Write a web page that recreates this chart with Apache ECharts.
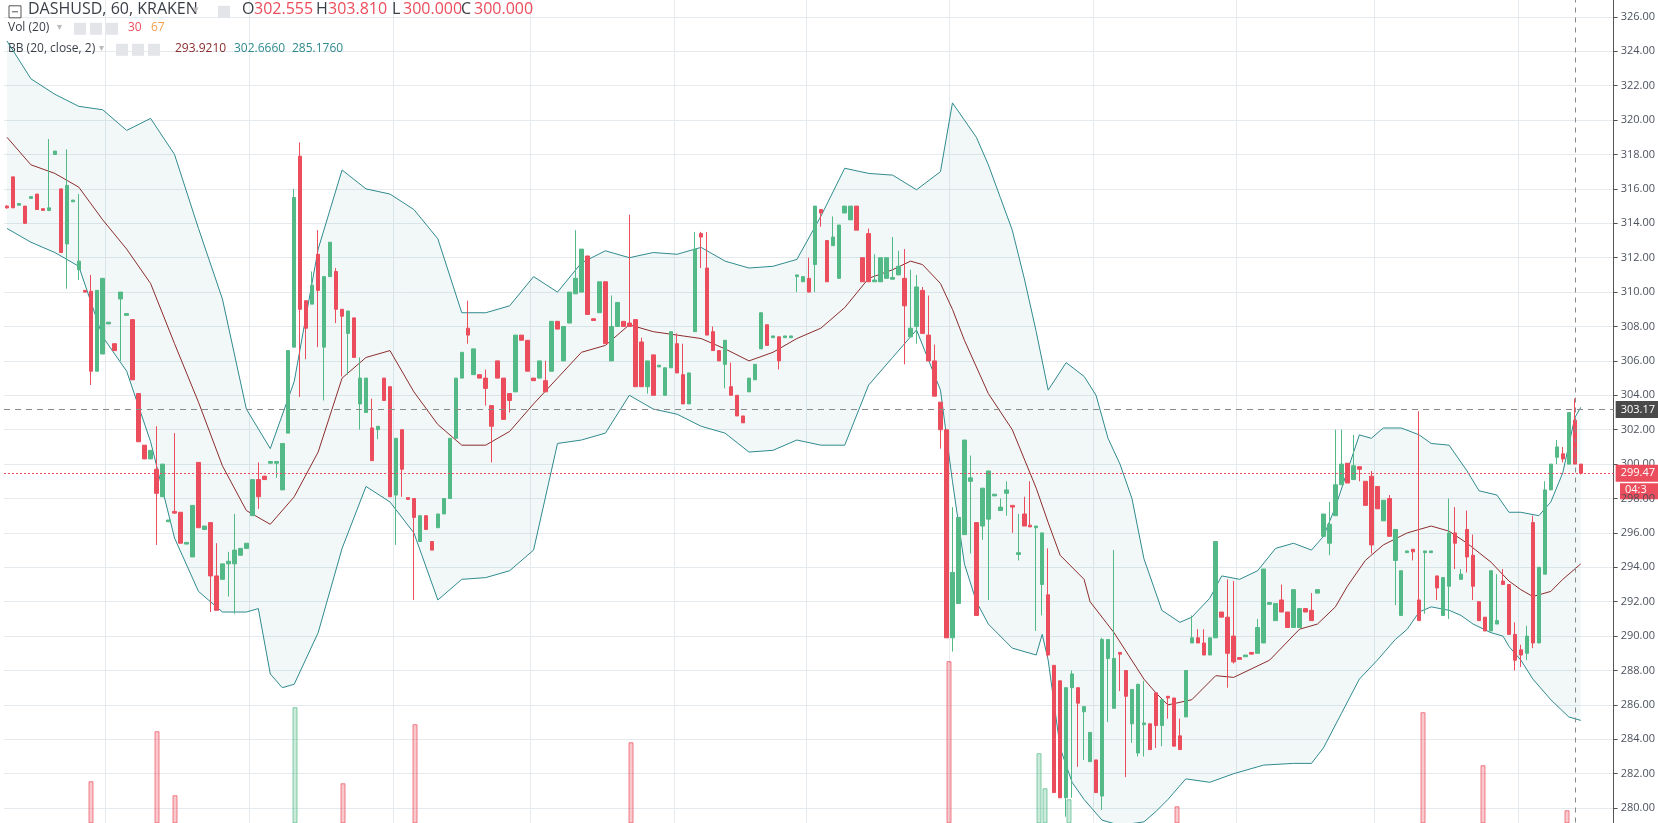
<!DOCTYPE html>
<html><head><meta charset="utf-8">
<script src="https://cdn.jsdelivr.net/npm/echarts@6/dist/echarts.min.js"></script>
<style>html,body{margin:0;padding:0;background:#fff;overflow:hidden;width:1658px;height:823px;position:relative}#c{position:absolute;left:0;top:-22.8px;width:1658px;height:870.5px}</style>
</head><body><div id="c"></div>
<script>
// candles: [open, close, high?, low?]
const candles = [
[315.0,314.9,315.05,314.85],[316.7,314.9],[315.05,315.15],[315.0,314.0,315.0,313.96],[315.45,315.55],[315.7,314.8],[314.85,314.75],[314.75,314.9,318.9,314.7],[318.0,318.2],[316.0,312.3],
[312.8,316.2,318.3,310.2],[315.25,315.35],[311.3,311.8,315.7,310.7],[310.1,310.0],[310.05,305.4,311.0,304.6],[305.4,310.1],[306.4,310.8],[308.15,308.25],[307.0,306.6],[309.6,310.0,310.0,306.0],
[308.65,308.75],[308.4,304.9],[304.1,301.3],[301.1,300.3],[300.3,300.8],[299.7,298.3,302.2,295.3],[298.1,300.0],[296.65,296.75],[297.25,297.15,301.8,297.1],[297.2,295.4],
[295.35,295.45],[294.6,297.6],[300.1,296.3],[296.2,296.4],[296.6,293.5,296.6,291.4],[293.5,291.5,295.4,291.5],[293.3,294.2],[294.2,294.35,294.9,292.3],[294.2,295.0,297.1,291.3],[294.7,295.1],
[295.1,295.4],[297.0,299.1],[299.1,298.1,300.1,297.4],[299.3,299.1],[300.05,300.15],[300.05,300.15,300.15,299.2],[298.5,301.2],[301.8,306.6],[306.8,315.5,316.0,306.8],[317.9,309.0,318.7,303.9],
[309.5,307.9,309.5,306.1],[309.3,310.4,311.2,309.3],[312.2,310.1,313.6,306.8],[306.8,310.9,310.9,303.7],[310.9,312.9],[311.2,309.0,311.4,308.2],[309.0,308.6,309.0,305.1],[307.6,308.9,308.9,305.2],[308.5,306.2],[303.5,305.0,306.2,302.0],
[303.0,305.0],[302.1,300.2,303.8,300.2],[302.0,302.2,302.2,301.45],[305.0,303.7],[304.5,298.1],[298.2,301.5,301.5,295.3],[302.0,299.7,302.0,298.1],[298.05,297.95],[298.0,296.9,298.0,292.1],[295.5,297.0],
[297.0,296.2],[295.5,295.0],[296.3,297.1],[297.1,298.0],[298.0,301.5],[301.5,305.0],[305.0,306.5],[307.9,307.5,309.5,307.0],[305.2,306.7],[305.2,305.0],
[305.0,304.4,305.5,303.4],[303.4,302.2,303.4,300.1],[306.0,305.0],[305.0,302.6],[304.1,303.7,304.1,303.0],[304.2,307.5],[307.5,307.2],[307.2,305.4],[305.0,304.85],[305.0,306.0],
[304.85,304.2,306.0,304.2],[305.4,308.3],[308.3,307.85],[306.0,308.0],[308.2,310.0],[309.9,310.8,313.6,309.9],[310.0,312.5],[312.1,308.7],[308.45,308.35],[308.8,310.6],
[310.6,307.0],[306.0,308.0,309.8,306.0],[308.0,309.4],[308.3,308.0],[308.2,308.0,314.5,308.0],[308.4,304.5],[307.1,304.5,307.35,304.5],[304.5,306.0,306.0,304.1],[306.35,304.0],[305.65,305.75],
[304.0,305.6],[305.6,307.7],[307.0,305.3,307.6,305.3],[305.2,303.5,307.0,303.5],[303.5,305.3],[307.7,312.5,313.5,307.7],[313.4,313.2,313.5,311.4],[311.4,307.5,313.5,307.5],[307.7,306.6,308.0,306.6],[306.6,306.0],
[305.8,307.2,307.2,304.4],[304.5,304.0,305.9,304.0],[304.0,302.8],[302.8,302.4],[304.2,305.0],[304.9,305.8],[306.7,308.8],[308.1,306.9],[307.35,307.45],[307.4,306.0,307.4,305.5],
[307.35,307.45],[307.35,307.45],[310.9,311.0,311.0,310.0],[310.6,310.9],[310.8,310.0,312.0,310.0],[311.6,315.0,315.0,310.0],[314.8,314.6,314.8,313.8],[313.0,310.6],[312.7,313.2,314.4,312.7],[310.8,313.9],
[314.6,315.0],[314.2,315.0],[315.0,313.6],[312.0,310.6],[313.4,310.6,313.7,310.6],[310.6,310.7,312.2,310.6],[310.6,312.0],[310.8,312.0],[310.75,310.85,313.2,310.75],[311.0,311.5,312.4,311.0],
[310.8,309.2,312.5,305.8],[307.4,307.9,311.3,307.4],[308.0,310.3,311.0,307.0],[310.1,307.6,310.3,307.6],[307.5,306.0,309.8,306.0],[306.0,303.95,306.95,303.95],[303.6,302.0,303.6,300.9],[302.0,289.9],[289.9,293.7,297.5,289.1],[291.9,296.9],
[295.9,301.4],[299.0,299.2,300.5,294.8],[296.6,291.2],[296.4,298.6,298.6,295.6],[296.8,299.6,299.6,292.1],[298.15,298.25],[297.3,297.5,298.0,297.3],[298.3,298.5,299.0,297.0],[297.6,297.5,297.6,296.0],[294.75,294.85,297.1,294.4],
[297.1,296.4,298.1,296.4],[296.45,296.35,299.0,296.35],[296.3,296.4,296.4,290.3],[293.0,296.0,296.0,291.2],[292.4,288.9,295.1,288.8],[288.3,280.9],[287.4,280.6],[280.6,287.0,287.0,279.5],[287.0,287.8,288.0,280.6],[287.0,286.1,287.0,282.4],
[285.6,285.9,285.9,282.8],[282.7,284.4],[282.8,280.9],[280.7,289.8,289.9,279.9],[288.7,289.8,289.8,285.0],[285.8,288.7,295.0,285.8],[289.05,288.95,289.05,286.8],[288.0,286.5,288.0,281.8],[284.9,286.9,286.9,283.8],[283.2,287.2,287.2,283.0],
[284.85,284.95,287.4,283.0],[284.9,283.4],[286.7,284.8,286.7,283.5],[284.8,286.3,286.3,283.6],[286.5,286.4,286.5,285.2],[286.4,283.6],[284.2,283.4,285.2,283.4],[285.3,288.0],[289.6,289.9,291.2,289.6],[289.9,289.6,290.4,289.6],
[289.6,288.9,290.4,288.9],[288.9,289.9],[289.9,295.5],[291.4,291.1],[291.1,289.0,293.3,287.0],[290.0,288.5,293.2,288.4],[288.75,288.65],[288.8,288.9],[289.05,288.95],[289.0,290.5,291.0,289.0],
[289.6,293.9],[291.85,291.95],[290.9,291.9],[292.1,291.4,293.0,291.4],[291.4,290.5],[290.5,292.7],[290.5,291.6],[291.6,291.4],[291.5,290.9,292.5,290.9],[292.5,292.7],
[295.8,297.1],[295.4,296.5,297.8,294.7],[297.0,298.8,302.0,297.0],[298.8,300.0,302.0,298.8],[300.05,298.9],[299.1,299.9,301.7,299.1],[299.85,299.7,299.85,299.0],[299.0,297.6],[299.3,295.3,299.6,294.8],[298.7,297.4],
[296.7,297.9],[298.0,295.8,298.2,295.8],[294.4,296.2,296.2,291.8],[291.2,293.8],[294.85,294.95],[295.05,294.9,295.05,294.4],[292.1,290.9,303.07,290.9],[294.85,294.95,294.95,291.3],[294.85,294.95],[293.5,292.8,293.5,292.1],
[291.2,293.4],[292.9,296.0,298.0,291.0],[296.0,295.4,297.5,293.9],[293.3,293.6,293.9,293.3],[296.2,294.6,297.3,293.7],[294.7,292.9,295.9,292.1],[292.0,290.9],[291.1,290.3],[290.3,293.8],[290.7,290.9,293.6,290.7],
[293.2,293.0,293.9,293.0],[293.0,290.1],[290.1,288.6,290.8,288.0],[289.2,288.9,289.5,288.2],[289.0,290.0,290.6,288.6],[296.6,289.6,297.0,289.3],[289.6,294.0],[293.6,298.5,299.0,293.6],[298.5,300.0],[300.4,301.0,301.4,300.0],
[300.6,300.3,301.0,300.1],[300.0,303.0],[302.55,300.0,303.81,300.0],[300.0,299.47,300.0,299.4]
];
const bbUpper = [[0,324.6],[4,322.4],[8,321.5],[12,320.8],[16,320.6],[20,319.4],[24,320.1],[28,318.0],[32,313.7],[36,309.6],[40,303.2],[44,300.9],[48,304.8],[52,312.5],[56,317.1],[60,316.0],[64,315.7],[68,314.8],[72,313.1],[76,308.8],[80,308.8],[84,309.2],[88,310.9],[92,310.0],[96,311.7],[100,312.4],[104,312.0],[108,312.3],[112,312.2],[116,312.6],[120,311.8],[124,311.4],[128,311.5],[132,311.9],[136,314.4],[140,317.2],[144,316.9],[148,316.8],[152,315.95],[156,317.0],[158,321.0],[160,320.0],[162,319.0],[164,317.4],[166,315.5],[168,313.6],[170,310.8],[172,307.7],[174,304.3],[177,305.9],[180,305.1],[182,304.0],[184,301.5],[186,300.0],[188,298.0],[190,294.5],[193,291.5],[196,290.8],[198,291.1],[201,292.2],[203,293.5],[206,293.3],[209,293.8],[212,295.1],[215,295.4],[218,295.0],[220,295.8],[222,297.5],[226,301.7],[228,301.5],[230,302.1],[233,302.1],[236,301.7],[238,301.2],[241,301.1],[244,299.6],[246,298.45],[249,298.2],[251,297.2],[253,297.2],[256,297.0],[258,297.8],[260,299.5],[262,302.7],[263,303.3]];
const bbMid = [[0,319.0],[4,317.4],[8,316.9],[12,316.1],[16,314.2],[20,312.5],[24,310.5],[28,307.0],[32,303.6],[36,299.9],[40,297.3],[44,296.5],[48,298.1],[52,300.7],[56,305.0],[60,306.2],[64,306.6],[68,304.2],[72,302.3],[76,301.1],[80,301.1],[84,301.9],[88,303.5],[92,305.0],[96,306.5],[100,306.9],[104,308.1],[108,307.7],[112,307.5],[116,307.3],[120,306.7],[124,306.0],[128,306.5],[132,307.3],[136,307.9],[140,309.1],[144,310.8],[148,311.3],[151,311.8],[153,311.6],[156,310.5],[158,309.0],[160,307.2],[164,304.1],[168,302.0],[172,298.6],[174,296.6],[176,294.7],[180,293.3],[181,292.0],[185,290.2],[190,287.5],[192,286.7],[194,286.0],[198,286.3],[202,287.7],[205,287.6],[211,288.6],[216,290.4],[219,290.7],[222,291.7],[224,292.9],[227,294.4],[230,295.3],[234,296.0],[238,296.4],[241,296.1],[244,295.4],[248,294.3],[251,293.2],[253,292.7],[255,292.3],[258,292.6],[260,293.3],[263,294.2]];
const bbLower = [[0,313.7],[4,312.9],[8,312.3],[12,311.5],[16,307.4],[20,305.4],[24,301.3],[28,295.7],[32,292.6],[36,291.4],[40,291.4],[42,291.6],[44,287.8],[46,287.0],[48,287.2],[52,290.2],[56,295.1],[60,298.7],[64,297.8],[68,296.0],[72,292.1],[76,293.3],[80,293.4],[84,293.8],[88,295.0],[92,301.2],[96,301.4],[100,301.8],[104,304.0],[108,303.2],[112,302.9],[116,302.2],[120,301.8],[124,300.7],[128,300.8],[132,301.4],[136,301.1],[140,301.1],[144,304.6],[148,306.2],[152,307.8],[156,304.3],[158,299.0],[160,294.2],[162,292.0],[164,290.7],[168,289.3],[172,288.9],[173,290.1],[174,288.6],[176,283.5],[178,281.5],[180,280.5],[183,279.3],[186,279.0],[190,279.2],[192,279.8],[194,280.5],[197,281.7],[201,281.5],[205,282.0],[210,282.5],[215,282.6],[218,282.6],[220,283.5],[223,285.5],[226,287.5],[229,288.6],[232,289.8],[234,290.4],[236,291.4],[238,291.7],[241,291.5],[243,291.2],[245,290.7],[248,290.2],[250,290.0],[251,289.4],[253,288.6],[255,287.5],[258,286.3],[261,285.3],[263,285.1]];
const volumes = [[14,21],[25,46],[28,14],[48,58],[56,20],[68,49.5],[104,40.5],[157,81],[172,35],[173,17.5],[177,12],[195,8.5],[236,55.5],[246,29],[260,6.5]];
const dayLineIdx = [17,41,65,88,112,134,158,182,206,229,253];
const lastPrice = 299.47, crossPrice = 303.17, crossIdx = 262;
const NCAT = 269;

const UP='#53b987', DN='#eb4d5c';
const OFF = 22.8; // canvas offset (div shifted up)
const cats = Array.from({length:NCAT},(_,i)=>String(i));
const ohlc = candles.map(c=>{const o=c[0],cl=c[1];const h=c[2]!==undefined?c[2]:Math.max(o,cl);const l=c[3]!==undefined?c[3]:Math.min(o,cl);return [o,cl,l,h];});
const volData = volumes.map(([i,v])=>{const up=candles[i][1]>=candles[i][0];return {value:[i,v],itemStyle:{color:up?'rgba(83,185,135,0.3)':'rgba(235,77,92,0.3)',borderColor:up?'rgba(83,185,135,0.7)':'rgba(235,77,92,0.7)',borderWidth:1}};});

const chart = echarts.init(document.getElementById('c'));
const font = 'Open Sans, DejaVu Sans, sans-serif';
chart.setOption({
  animation:false,
  grid:[{left:4,right:40,top:0,bottom:0},{left:4,right:40,top:OFF,bottom:24.7}],
  xAxis:[
    {type:'category',data:cats,gridIndex:0,boundaryGap:true,axisLine:{show:false},axisTick:{show:false},axisLabel:{show:false},
     splitLine:{show:true,interval:(idx)=>dayLineIdx.includes(idx),lineStyle:{color:'#e4eaee',width:1}}},
    {type:'category',data:cats,gridIndex:1,boundaryGap:true,show:false}
  ],
  yAxis:[
    {type:'value',gridIndex:0,position:'right',min:278,max:328,interval:2,
     axisLine:{show:true,lineStyle:{color:'#555'}},axisTick:{show:true,length:4,lineStyle:{color:'#555'}},
     axisLabel:{color:'#4c525e',fontSize:11,fontFamily:font,formatter:v=>v.toFixed(2),margin:7},
     splitLine:{lineStyle:{color:'#e4eaee'}}},
    {type:'value',gridIndex:1,min:0,max:411.5,show:false}
  ],
  series:[
    {type:'custom',xAxisIndex:0,yAxisIndex:0,data:[[0,300]],silent:true,z:1,
     renderItem:(params,api)=>{
       const pts=bbUpper.map(p=>api.coord(p)).concat(bbLower.slice().reverse().map(p=>api.coord(p)));
       return {type:'polygon',shape:{points:pts},style:{fill:'rgba(38,134,141,0.06)'}};
     }},
    {type:'bar',xAxisIndex:1,yAxisIndex:1,data:volData,barWidth:5,z:2},
    {type:'line',data:bbUpper,symbol:'none',lineStyle:{color:'#2f8a8e',width:1},z:3},
    {type:'line',data:bbLower,symbol:'none',lineStyle:{color:'#2f8a8e',width:1},z:3},
    {type:'line',data:bbMid,symbol:'none',lineStyle:{color:'#8b2c2c',width:1},z:3},
    {type:'candlestick',data:ohlc,barWidth:4,z:4,
     itemStyle:{color:UP,color0:DN,borderColor:UP,borderColor0:DN,borderWidth:1},
     markLine:{symbol:'none',silent:true,animation:false,
       data:[
         {yAxis:crossPrice,lineStyle:{color:'#8a8a8a',type:[6,5],width:1},
          label:{show:true,position:'end',formatter:crossPrice.toFixed(2),color:'#fff',backgroundColor:'#4a4a4a',padding:[3,5],fontSize:11,fontFamily:font,distance:2}},
         {yAxis:lastPrice,lineStyle:{color:DN,type:[2,2],width:1},
          label:{show:true,position:'end',formatter:lastPrice.toFixed(2),color:'#fff',backgroundColor:DN,padding:[3,5],fontSize:11,fontFamily:font,distance:2}},
         {xAxis:crossIdx,lineStyle:{color:'#8a8a8a',type:[5,5],width:1},label:{show:false}}
       ]}}
  ]
});
const ly = chart.convertToPixel({yAxisIndex:0},lastPrice);
const g = (x,y,t,c,s,w)=>({type:'text',left:x,top:y+OFF,style:{text:t,fill:c,font:(w||'normal')+' '+s+'px '+font}});
const box = (x,y)=>({type:'rect',shape:{x:x,y:y+OFF,width:12,height:12},style:{fill:'#e3e5e8'}});
chart.setOption({graphic:[
  {type:'rect',shape:{x:1620,y:ly+10,width:40,height:16},style:{fill:DN}},
  {type:'text',left:1625,top:ly+11,style:{text:'04:3',fill:'#fff',font:'11px '+font}},
  {type:'rect',shape:{x:9,y:6+OFF,width:12,height:12},style:{fill:'rgba(255,255,255,0.8)',stroke:'#555',lineWidth:1}},
  {type:'line',shape:{x1:12,y1:12+OFF,x2:18,y2:12+OFF},style:{stroke:'#555'}},
  g(28,2,'DASHUSD, 60, KRAKEN','#3a3e46',16,'normal'),
  g(193,5,'▾','#bbb',11),
  box(218,6),
  g(242,2,'O','#3a3e46',16),g(254,2,'302.555',DN,16),
  g(316,2,'H','#3a3e46',16),g(328,2,'303.810',DN,16),
  g(392,2,'L','#3a3e46',16),g(403,2,'300.000',DN,16),
  g(461,2,'C','#3a3e46',16),g(474,2,'300.000',DN,16),
  g(8,22,'Vol (20)','#3a3e46',12),g(57,22,'▾','#bbb',10),
  box(74,23),box(90,23),box(106,23),
  g(128,22,'30',DN,12),g(151,22,'67','#f5a04a',12),
  g(8,43,'BB (20, close, 2)','#3a3e46',12),g(99,43,'▾','#bbb',10),
  box(116,44),box(132,44),box(148,44),
  g(175,43,'293.9210','#8b2c2c',12),g(234,43,'302.6660','#2f8a8e',12),g(292,43,'285.1760','#2f8a8e',12)
]});
</script></body></html>
